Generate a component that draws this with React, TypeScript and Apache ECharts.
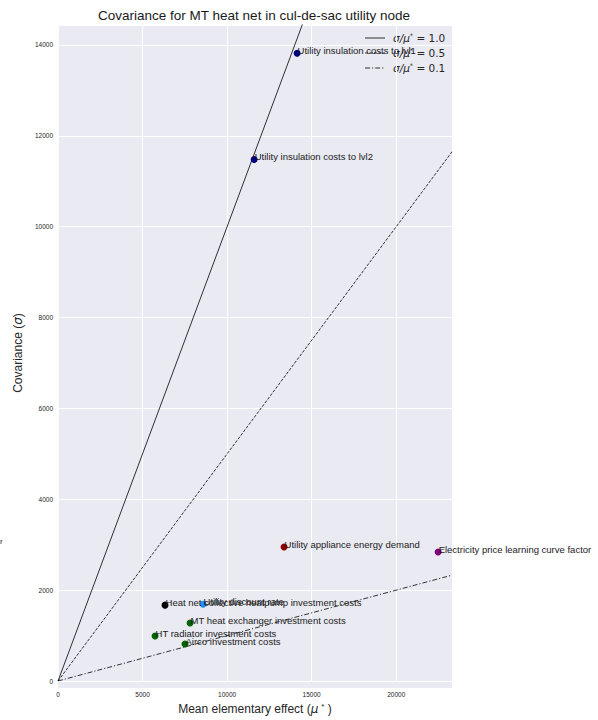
import React, { useEffect, useRef } from "react";
import * as echarts from "echarts";

const pointNames = [
  "Utility insulation costs to lvl1",
  "Utility insulation costs to lvl2",
  "Utility appliance energy demand",
  "Electricity price learning curve factor",
  "Heat net collective heatpump investment costs",
  "Utility discount rate",
  "MT heat exchanger investment costs",
  "HT radiator investment costs",
  "Airco investment costs",
];
const muStar = [14140, 11600, 13370, 22480, 6330, 8580, 7810, 5740, 7510];
const sigma = [13820, 11480, 2950, 2840, 1670, 1690, 1275, 990, 815];
const pointColors = [
  "#000080",
  "#000080",
  "#8b0000",
  "#800080",
  "#000000",
  "#1e90ff",
  "#006400",
  "#006400",
  "#006400",
];

const ratios = [1.0, 0.5, 0.1];
const ratioNames = ["1.0", "0.5", "0.1"];
const ratioDash: any[] = ["solid", [3, 1.5], [5, 2, 1.2, 2]];

const xTicks = [0, 5000, 10000, 15000, 20000];
const yTicks = [0, 2000, 4000, 6000, 8000, 10000, 12000, 14000];
const xMax = 23300;
const yMax = 14440;

const TEXT = "#262626";
const FONT = "Liberation Sans, Arial, sans-serif";

export default function App() {
  const ref = useRef<HTMLDivElement>(null);
  useEffect(() => {
    if (!ref.current) return;
    const chart = echarts.init(ref.current, undefined, { renderer: "svg" });

    const lineSeries = ratios.map((r, i) => ({
      name: ratioNames[i],
      type: "line",
      data: [
        [0, 0],
        [xMax, xMax * r],
      ],
      symbol: "none",
      showSymbol: false,
      clip: true,
      z: 3,
      lineStyle: { color: "#000000", width: 0.8, type: ratioDash[i] },
      itemStyle: { color: "#000000" },
    }));

    const scatterData = pointNames.map((n, i) => ({
      name: n,
      value: [muStar[i], sigma[i]],
      itemStyle: { color: pointColors[i], opacity: 1 },
    }));

    const legendRich = {
      i: { fontStyle: "italic", fontSize: 10.5, fill: TEXT, fontFamily: "DejaVu Sans" },
      s: { fontSize: 6.5, verticalAlign: "top", fill: TEXT, fontFamily: "DejaVu Sans" },
      n: { fontSize: 10.5, fill: TEXT, fontFamily: "DejaVu Sans" },
    };

    const legendGraphics: any[] = [];
    ratioNames.forEach((nm, i) => {
      const y = 38 + i * 15;
      legendGraphics.push({
        type: "line",
        silent: true,
        shape: { x1: 365, y1: y, x2: 385, y2: y },
        style: {
          stroke: "#000000",
          lineWidth: 0.8,
          lineDash: ratioDash[i] === "solid" ? null : ratioDash[i],
        },
      });
      legendGraphics.push({
        type: "text",
        silent: true,
        x: 393,
        y: y,
        style: {
          text: `{i|σ/μ}{s|*}{n| = ${nm}}`,
          verticalAlign: "middle",
          align: "left",
          rich: legendRich,
        },
      });
    });

    chart.setOption({
      animation: false,
      textStyle: { fontFamily: FONT },
      title: {
        text: "Covariance for MT heat net in cul-de-sac utility node",
        left: 249,
        textAlign: "center",
        top: 3,
        textStyle: { fontSize: 13.5, fontWeight: "normal", color: "#1a1a1a", fontFamily: FONT },
      },
      grid: {
        left: 58,
        right: 146,
        top: 25,
        bottom: 39,
        show: true,
        backgroundColor: "#EAEAF2",
        borderWidth: 0,
      },
      xAxis: {
        type: "value",
        min: 0,
        max: xMax,
        interval: 5000,
        offset: 7,
        axisLine: { show: false },
        axisTick: { show: false },
        splitLine: { show: true, lineStyle: { color: "#ffffff", width: 1 } },
        axisLabel: {
          fontSize: 6.5,
          color: TEXT,
          margin: 3,
          showMaxLabel: false,
          formatter: (v: number) => (xTicks.includes(v) ? String(v) : ""),
        },
        name: "Mean elementary effect ({m|μ}{s|*} )",
        nameLocation: "middle",
        nameGap: 10,
        nameTextStyle: {
          fontSize: 12,
          color: TEXT,
          fontFamily: FONT,
          rich: {
            m: { fontSize: 12, fontStyle: "italic", color: TEXT, fontFamily: "DejaVu Sans" },
            s: { fontSize: 8, verticalAlign: "top", color: TEXT, padding: [0, 0, 0, 3] },
          },
        },
      },
      yAxis: {
        type: "value",
        min: 0,
        max: yMax,
        interval: 2000,
        axisLine: { show: false },
        axisTick: { show: false },
        splitLine: { show: true, lineStyle: { color: "#ffffff", width: 1 } },
        axisLabel: {
          fontSize: 6.5,
          color: TEXT,
          margin: 5,
          showMaxLabel: false,
          formatter: (v: number) => (yTicks.includes(v) ? String(v) : ""),
        },
        name: "Covariance ({m|σ})",
        nameLocation: "middle",
        nameGap: 34,
        nameTextStyle: {
          fontSize: 12,
          color: TEXT,
          fontFamily: FONT,
          rich: {
            m: { fontSize: 12, fontStyle: "italic", color: TEXT, fontFamily: "DejaVu Sans" },
          },
        },
      },
      graphic: [
        {
          type: "rect",
          z: -1,
          silent: true,
          shape: { x: 58, y: 681, width: 394, height: 7 },
          style: { fill: "#EAEAF2" },
        },
        {
          type: "text",
          x: 0,
          y: 537,
          silent: true,
          style: { text: "r", fontSize: 8, fill: "#262626", fontFamily: FONT },
        },
        ...legendGraphics,
      ],
      series: [
        ...lineSeries,
        {
          name: "points",
          type: "scatter",
          symbol: "circle",
          symbolSize: 7,
          z: 5,
          data: scatterData,
          label: {
            show: true,
            formatter: "{b}",
            position: [4, 6],
            align: "left",
            verticalAlign: "bottom",
            fontSize: 9.5,
            color: "#1a1a1a",
            fontFamily: FONT,
          },
        },
      ],
    });
    return () => chart.dispose();
  }, []);
  return (
    <div
      ref={ref}
      style={{ position: "fixed", left: 0, top: 0, width: 598, height: 720, background: "#ffffff" }}
    />
  );
}
